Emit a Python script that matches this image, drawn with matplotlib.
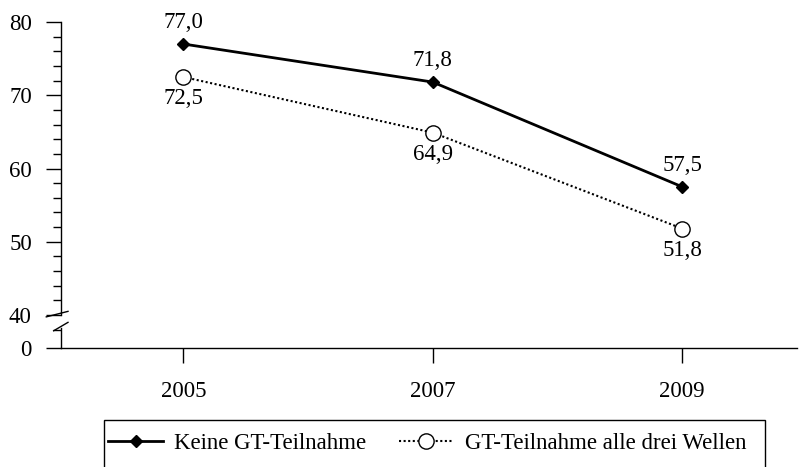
import numpy as np
import matplotlib

matplotlib.use("Agg")
import matplotlib.pyplot as plt
import matplotlib.transforms as mtransforms
from matplotlib.patches import Rectangle

plt.rcParams["font.family"] = ["Liberation Serif", "DejaVu Serif"]

years = ["2005", "2007", "2009"]
keine = [77.0, 71.8, 57.5]  # Keine GT-Teilnahme
alle = [72.5, 64.9, 51.8]  # GT-Teilnahme alle drei Wellen
ymajor = [40, 50, 60, 70, 80]
ybottom = 35.5  # where the "0" sits below the axis break

W, H = 801, 467
fig = plt.figure(figsize=(W / 100, H / 100), dpi=100)
ax = fig.add_axes([61 / W, 1 - 348 / H, 736 / W, 326 / H])

x = np.arange(len(years))
ax.plot(x, keine, color="black", lw=2, marker="D", ms=6, mfc="black",
        label="Keine GT-Teilnahme")
ax.plot(x, alle, color="black", lw=1.5, ls=(0, (1, 1.2)), marker="o", ms=11,
        mfc="white", mec="black", mew=1, label="GT-Teilnahme alle drei Wellen")

fs = 16.5
for xi, v in zip(x, keine):
    ax.annotate(f"{v:.1f}".replace(".", ","), (xi, v), xytext=(0, 8),
                textcoords="offset points", ha="center", va="bottom", fontsize=fs)
for xi, v in zip(x, alle):
    ax.annotate(f"{v:.1f}".replace(".", ","), (xi, v), xytext=(0, -8),
                textcoords="offset points", ha="center", va="top", fontsize=fs)

ax.set_xlim(-0.49, 2.46)
ax.set_ylim(ybottom, 80)
ax.set_xticks(x)
ax.set_xticklabels(years, fontsize=fs)
ax.set_yticks([ybottom] + ymajor)
ax.set_yticklabels(["0"] + [str(v) for v in ymajor], fontsize=fs)
ax.set_yticks([38] + list(range(42, 80, 2)), minor=True)
ax.tick_params(axis="y", which="major", length=11, width=1, pad=10)
ax.tick_params(axis="y", which="minor", length=6, width=1)
ax.tick_params(axis="x", which="major", length=11, width=1, pad=13)

for s in ["top", "right", "left"]:
    ax.spines[s].set_visible(False)
ax.spines["bottom"].set_linewidth(1)

# broken y axis drawn by hand
tr = mtransforms.blended_transform_factory(ax.transAxes, ax.transData)
kw = dict(color="black", lw=1, transform=tr, clip_on=False)
ax.plot([0, 0], [40, 80], **kw)
ax.plot([0, 0], [ybottom, 38.2], **kw)
ax.plot([-0.020, 0.0095], [39.75, 40.5], **kw)
ax.plot([-0.010, 0.0095], [37.85, 39.0], **kw)

# legend box runs off the bottom edge
fig.patches.append(Rectangle((104 / W, -0.05), 661 / W, 0.05 + 47 / H,
                             transform=fig.transFigure, fill=False,
                             edgecolor="black", lw=1))
fig.legend(loc="center left", bbox_to_anchor=(108 / W, 1 - 443 / H),
           ncol=2, fontsize=fs, frameon=False, handlelength=2.4,
           handletextpad=0.5, columnspacing=1.4, borderpad=0,
           borderaxespad=0)

fig.savefig("out.png", dpi=100)
